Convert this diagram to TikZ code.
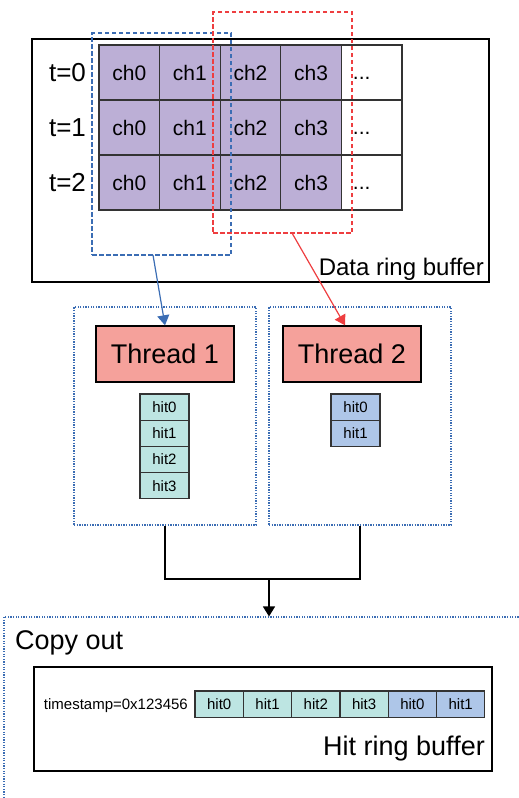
\documentclass[tikz,border=0pt]{standalone}
\usepackage{fontspec}
\setmainfont{Liberation Sans}
\usetikzlibrary{arrows.meta,calc}

\definecolor{cellpurple}{HTML}{BCAFD6}
\definecolor{hitteal}{HTML}{BDE5E2}
\definecolor{hitblue}{HTML}{AEC6E8}
\definecolor{threadred}{HTML}{F5A19B}
\definecolor{selblue}{HTML}{3B6DB4}
\definecolor{selred}{HTML}{EE3E40}
\definecolor{gridgray}{HTML}{333333}

\tikzset{
  frame/.style={draw=black, line width=1.4pt, rectangle, inner sep=0pt},
  cell/.style={draw=gridgray, line width=1.3pt, fill=cellpurple, rectangle, inner sep=0pt,
               minimum width=60.6pt, minimum height=55pt, font=\fontsize{21}{24}\selectfont},
  emptycell/.style={cell, fill=white},
  tlabel/.style={inner sep=0pt, font=\fontsize{26}{30}\selectfont},
  selbox/.style={draw, line width=1.6pt, dash pattern=on 4.5pt off 2.5pt, rectangle, inner sep=0pt},
  groupbox/.style={draw=selblue, line width=1.1pt, dash pattern=on 1.3pt off 1.3pt, rectangle, inner sep=0pt},
  threadbox/.style={draw=black, line width=1.4pt, fill=threadred, rectangle, inner sep=0pt,
                    minimum width=138pt, minimum height=56pt, font=\fontsize{27}{30}\selectfont},
  hitcell/.style={draw=gridgray, line width=1.2pt, rectangle, inner sep=0pt,
                  minimum width=49pt, minimum height=26.2pt, font=\fontsize{15}{18}\selectfont},
  rowcell/.style={hitcell, minimum width=48.3pt},
  bigtext/.style={inner sep=0pt, font=\fontsize{27}{30}\selectfont},
  link/.style={line width=1.2pt},
  tip/.style={-{Triangle[length=10pt,width=12pt]}}
}

\begin{document}
\begin{tikzpicture}[x=1pt, y=-1pt]
\useasboundingbox (0,0) rectangle (519,798);
\clip (0,0) rectangle (519,798);

% ---- data ring buffer ----
\node[frame, minimum width=457pt, minimum height=243pt] (drb) at (260.5,160.5) {};
\node[bigtext, font=\fontsize{24}{28}\selectfont, anchor=base east] (drblabel) at (484,275) {Data ring buffer};

\foreach \r/\ry in {0/72.5, 1/127.5, 2/182.5} {
  \node[tlabel] (t\r) at (67.5,\ry) {t=\r};
  \foreach \c in {0,1,2,3} {
    \node[cell] (c\r\c) at ({129.3+60.6*\c},\ry) {ch\c};
  }
  \node[emptycell] (c\r4) at ({129.3+60.6*4},\ry) {};
  \node[anchor=base west, inner sep=0pt, font=\fontsize{21}{24}\selectfont] (dots\r) at ($(c\r4.west)+(12,7)$) {...};
}

% ---- channel selections of the two threads ----
\node[selbox, draw=selblue, minimum width=139pt, minimum height=222pt] (selA) at (161.5,144) {};
\node[selbox, draw=selred, minimum width=139pt, minimum height=221pt] (selB) at (282.5,122.5) {};
\coordinate (srcA) at (153,255);
\coordinate (srcB) at (292,233);

% ---- thread groups ----
\node[groupbox, minimum width=182pt, minimum height=218pt] (grp1) at (165,416) {};
\node[groupbox, minimum width=182pt, minimum height=218pt] (grp2) at (360,416) {};
\node[threadbox] (th1) at (165,354) {Thread 1};
\node[threadbox] (th2) at (352,354) {Thread 2};

\foreach \i in {0,1,2,3} {
  \node[hitcell, fill=hitteal] (ha\i) at (164.5,{407.1+26.2*\i}) {hit\i};
}
\foreach \i in {0,1} {
  \node[hitcell, fill=hitblue] (hb\i) at (355.5,{407.1+26.2*\i}) {hit\i};
}

\draw[link, selblue, tip] (srcA) -- (th1.north);
\draw[link, selred, tip] (srcB) -- ([xshift=-7pt]th2.north);

% ---- merge into copy-out stage ----
\coordinate (join) at (269,579);
\node[groupbox, minimum width=530pt, minimum height=193pt] (copy) at (269,713.5) {};
\draw[link] (grp1.south) |- (join) -| (grp2.south);
\draw[link, tip] (join) -- (copy.north);
\node[bigtext, anchor=base west] (copylabel) at (15,649) {Copy out};

% ---- hit ring buffer ----
\node[frame, minimum width=458pt, minimum height=104pt] (hrb) at (263,719) {};
\node[inner sep=0pt, anchor=base east, font=\fontsize{15}{18}\selectfont] (ts) at (188,709) {timestamp=0x123456};
\foreach \i/\lab/\col in {0/hit0/hitteal, 1/hit1/hitteal, 2/hit2/hitteal, 3/hit3/hitteal, 4/hit0/hitblue, 5/hit1/hitblue} {
  \node[rowcell, fill=\col] (hr\i) at ({219.2+48.3*\i},704) {\lab};
}
\node[bigtext, anchor=base east] (hrblabel) at (485,755) {Hit ring buffer};
\end{tikzpicture}
\end{document}
